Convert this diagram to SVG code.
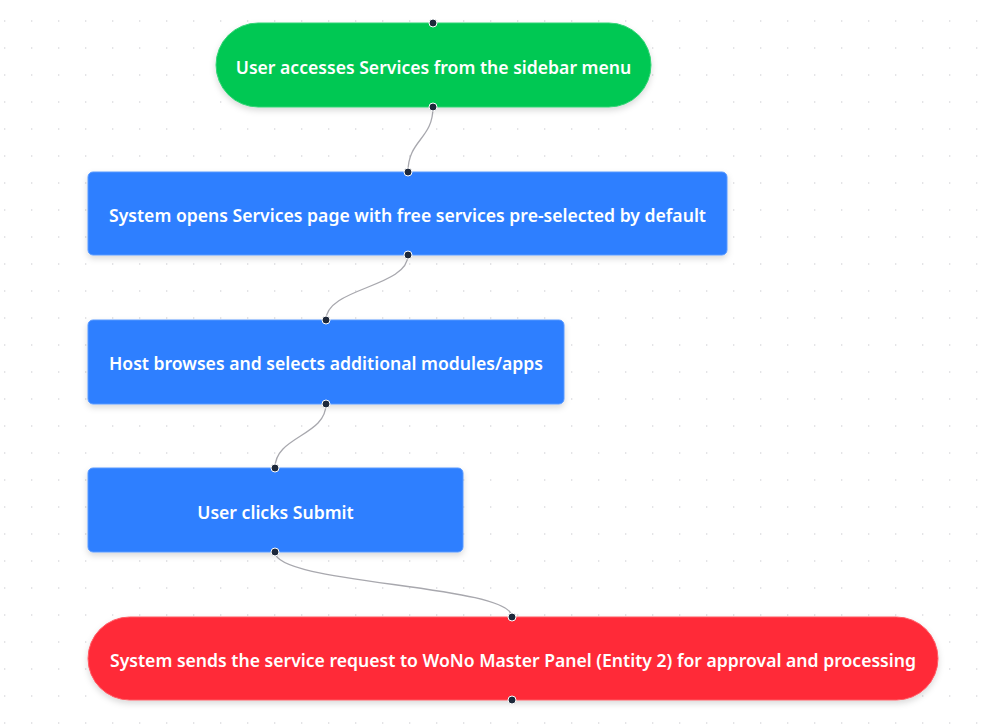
<svg xmlns="http://www.w3.org/2000/svg" width="998" height="726" viewBox="0 0 998 726">
  <defs>
    <pattern id="dots" x="0" y="0" width="27" height="27" patternUnits="userSpaceOnUse">
      <circle cx="4.7" cy="21" r="0.8" fill="#d4d4d8"/>
    </pattern>
    <filter id="shadow" x="-10%" y="-30%" width="120%" height="170%">
      <feDropShadow dx="0" dy="3" stdDeviation="3" flood-color="#000" flood-opacity="0.15"/>
    </filter>
    <style>
      .lbl { font-family: "Noto Sans", "Open Sans", "DejaVu Sans", sans-serif; font-size: 17.6px; font-weight: 600; fill: #ffffff; text-anchor: middle; dominant-baseline: central; }
      .edge { fill: none; stroke: #a8a8ae; stroke-width: 1.3; }
      .handle { fill: #1e293b; stroke: #ffffff; stroke-width: 1; }
      .green { fill: #00C853; stroke: #33d475; stroke-width: 1; }
      .blue { fill: #2D7FFF; stroke: #5a9aff; stroke-width: 1; }
      .red { fill: #FF2B38; stroke: #ff5a63; stroke-width: 1; }
    </style>
  </defs>
  <rect x="0" y="0" width="998" height="726" fill="#ffffff"/>
  <rect x="0" y="0" width="998" height="726" fill="url(#dots)"/>

  <g id="connectors">
    <path class="edge" d="M433,107 C433,139.5 408,139.5 408,172"/>
    <path class="edge" d="M408,255 C408,287.5 326,287.5 326,320"/>
    <path class="edge" d="M326,404 C326,436 275,436 275,468"/>
    <path class="edge" d="M275,552 C275,584.5 512,584.5 512,617"/>
  </g>

  <g id="node1">
    <rect class="green" x="216" y="23" width="435" height="84" rx="42" filter="url(#shadow)"/>
    <text class="lbl" x="433.5" y="67">User accesses Services from the sidebar menu</text>
    <circle class="handle" cx="433" cy="23" r="4"/>
    <circle class="handle" cx="433" cy="107" r="4"/>
  </g>

  <g id="node2">
    <rect class="blue" x="88" y="172" width="639" height="83" rx="5" filter="url(#shadow)"/>
    <text class="lbl" x="407.5" y="215">System opens Services page with free services pre-selected by default</text>
    <circle class="handle" cx="408" cy="172" r="4"/>
    <circle class="handle" cx="408" cy="255" r="4"/>
  </g>

  <g id="node3">
    <rect class="blue" x="88" y="320" width="476" height="84" rx="5" filter="url(#shadow)"/>
    <text class="lbl" x="326" y="363">Host browses and selects additional modules/apps</text>
    <circle class="handle" cx="326" cy="320" r="4"/>
    <circle class="handle" cx="326" cy="404" r="4"/>
  </g>

  <g id="node4">
    <rect class="blue" x="88" y="468" width="375" height="84" rx="5" filter="url(#shadow)"/>
    <text class="lbl" x="275.5" y="512">User clicks Submit</text>
    <circle class="handle" cx="275" cy="468" r="4"/>
    <circle class="handle" cx="275" cy="552" r="4"/>
  </g>

  <g id="node5">
    <rect class="red" x="88" y="617" width="850" height="83" rx="41.5" filter="url(#shadow)"/>
    <text class="lbl" x="513" y="660">System sends the service request to WoNo Master Panel (Entity 2) for approval and processing</text>
    <circle class="handle" cx="512" cy="617" r="4"/>
    <circle class="handle" cx="512" cy="700" r="4"/>
  </g>
</svg>
